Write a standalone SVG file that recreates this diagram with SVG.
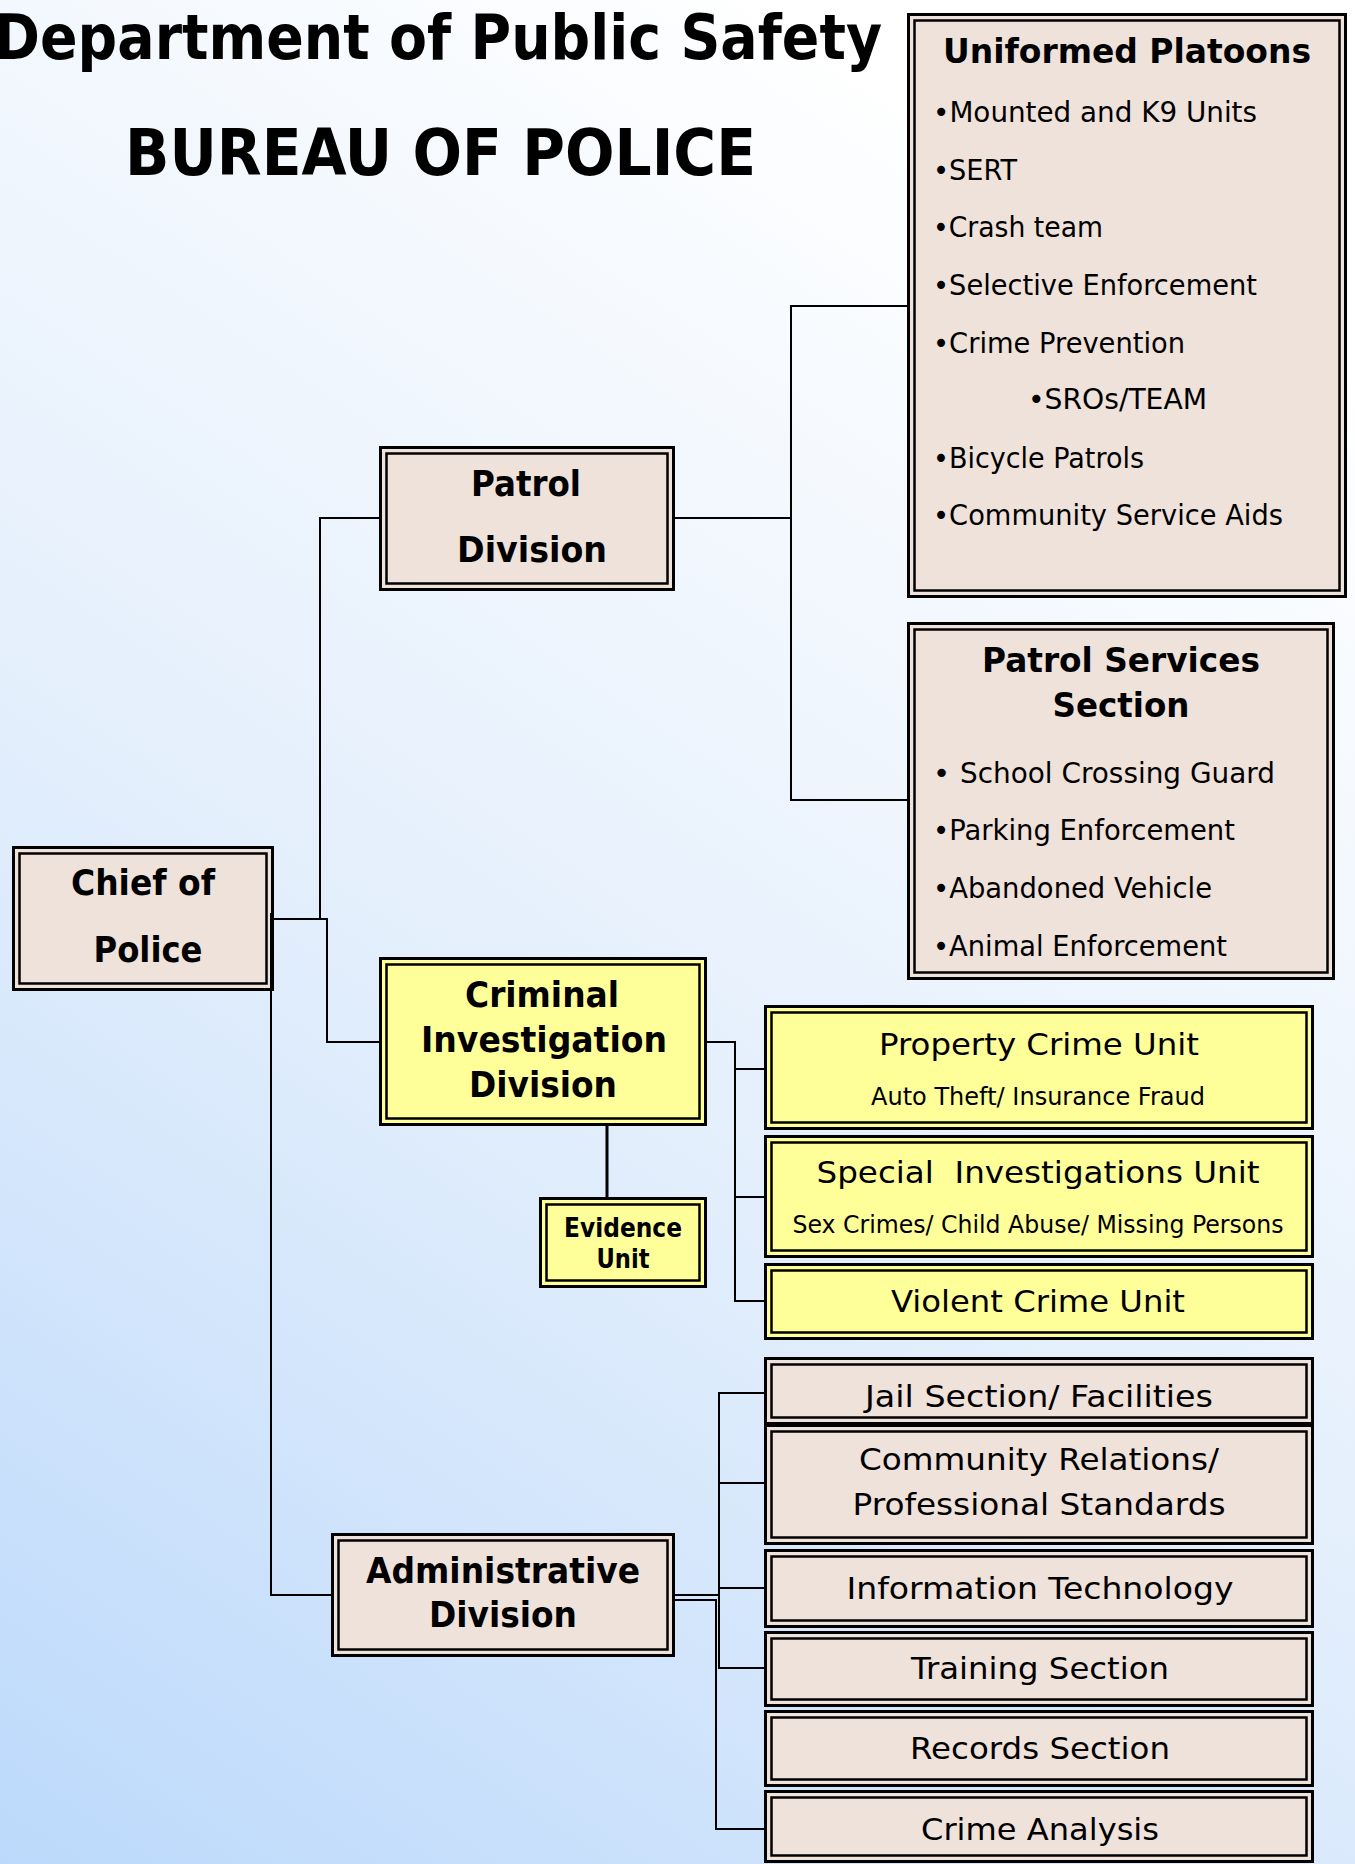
<svg xmlns="http://www.w3.org/2000/svg" width="1355" height="1864" viewBox="0 0 1355 1864">
<defs>
<linearGradient id="bg" gradientUnits="userSpaceOnUse" x1="0" y1="1864" x2="1100" y2="200">
<stop offset="0" stop-color="#bcd9fb"/>
<stop offset="0.5" stop-color="#e4effc"/>
<stop offset="1" stop-color="#ffffff"/>
</linearGradient>
<style>
text{font-family:"DejaVu Sans","Liberation Sans",sans-serif;fill:#000}
.t{font-weight:bold}
.h{font-weight:bold;font-size:34px}
.b{font-weight:bold;font-size:35px}
.r{font-size:29px}
.u{font-size:30px}
.s{font-size:25px}
.a{font-size:31px}
.e{font-weight:bold;font-size:26px}
.m{text-anchor:middle}
.ob{stroke:#000;stroke-width:3;fill:#efe2da}
.oy{stroke:#000;stroke-width:3;fill:#ffff99}
.ib{stroke:#000;stroke-width:2.5;fill:none}
.c{stroke:#000;stroke-width:2;fill:none}
</style>
</defs>
<rect x="0" y="0" width="1355" height="1864" fill="url(#bg)"/>

<g id="title">
<text class="t" x="-6" y="59" style="font-size:58px" textLength="888" lengthAdjust="spacingAndGlyphs" transform="translate(0 59) scale(1 1.086) translate(0 -59)">Department of Public Safety</text>
<text class="t" x="125" y="175" style="font-size:60px" textLength="631" lengthAdjust="spacingAndGlyphs" transform="translate(0 175) scale(1 1.07) translate(0 -175)">BUREAU OF POLICE</text>
</g>

<g id="uniformed-platoons">
<rect class="ob" x="908.5" y="14.5" width="437" height="582"/>
<rect class="ib" x="914.5" y="20.5" width="425" height="570"/>
<text class="h m" x="1127" y="63" textLength="368" lengthAdjust="spacingAndGlyphs">Uniformed Platoons</text>
<text class="r" x="933" y="122" textLength="324" lengthAdjust="spacingAndGlyphs">•Mounted and K9 Units</text>
<text class="r" x="933" y="180" textLength="84" lengthAdjust="spacingAndGlyphs">•SERT</text>
<text class="r" x="933" y="237" textLength="170" lengthAdjust="spacingAndGlyphs">•Crash team</text>
<text class="r" x="933" y="295" textLength="324" lengthAdjust="spacingAndGlyphs">•Selective Enforcement</text>
<text class="r" x="933" y="353" textLength="252" lengthAdjust="spacingAndGlyphs">•Crime Prevention</text>
<text class="r" x="1028" y="409" textLength="179" lengthAdjust="spacingAndGlyphs">•SROs/TEAM</text>
<text class="r" x="933" y="468" textLength="211" lengthAdjust="spacingAndGlyphs">•Bicycle Patrols</text>
<text class="r" x="933" y="525" textLength="350" lengthAdjust="spacingAndGlyphs">•Community Service Aids</text>
</g>

<g id="patrol-services-section">
<rect class="ob" x="908.5" y="623.5" width="425" height="355"/>
<rect class="ib" x="914.5" y="629.5" width="413" height="343"/>
<text class="h m" x="1121" y="672" textLength="278" lengthAdjust="spacingAndGlyphs">Patrol Services</text>
<text class="h m" x="1121" y="717" textLength="137" lengthAdjust="spacingAndGlyphs">Section</text>
<text class="r" x="933" y="783">•</text>
<text class="r" x="960" y="783" textLength="315" lengthAdjust="spacingAndGlyphs">School Crossing Guard</text>
<text class="r" x="933" y="840" textLength="302" lengthAdjust="spacingAndGlyphs">•Parking Enforcement</text>
<text class="r" x="933" y="898" textLength="279" lengthAdjust="spacingAndGlyphs">•Abandoned Vehicle</text>
<text class="r" x="933" y="956" textLength="294" lengthAdjust="spacingAndGlyphs">•Animal Enforcement</text>
</g>

<g id="patrol-division">
<rect class="ob" x="380.5" y="447.5" width="293" height="142"/>
<rect class="ib" x="386.5" y="453.5" width="281" height="130"/>
<text class="b m" x="526" y="496" textLength="110" lengthAdjust="spacingAndGlyphs">Patrol</text>
<text class="b m" x="532" y="562" textLength="150" lengthAdjust="spacingAndGlyphs">Division</text>
</g>

<g id="chief-of-police">
<rect class="ob" x="13.5" y="847.5" width="259" height="142"/>
<rect class="ib" x="19.5" y="853.5" width="247" height="130"/>
<text class="b m" x="143" y="895" textLength="144" lengthAdjust="spacingAndGlyphs">Chief of</text>
<text class="b m" x="148" y="962" textLength="109" lengthAdjust="spacingAndGlyphs">Police</text>
</g>

<g id="criminal-investigation-division">
<rect class="oy" x="380.5" y="958.5" width="325" height="166"/>
<rect class="ib" x="386.5" y="964.5" width="313" height="154"/>
<text class="b m" x="542" y="1007" textLength="154" lengthAdjust="spacingAndGlyphs">Criminal</text>
<text class="b m" x="544" y="1052" textLength="246" lengthAdjust="spacingAndGlyphs">Investigation</text>
<text class="b m" x="543" y="1097" textLength="148" lengthAdjust="spacingAndGlyphs">Division</text>
</g>

<g id="evidence-unit">
<rect class="oy" x="540.5" y="1198.5" width="165" height="88"/>
<rect class="ib" x="546.5" y="1204.5" width="153" height="76"/>
<text class="e m" x="623" y="1237" textLength="118" lengthAdjust="spacingAndGlyphs">Evidence</text>
<text class="e m" x="623" y="1268" textLength="53" lengthAdjust="spacingAndGlyphs">Unit</text>
</g>

<g id="property-crime-unit">
<rect class="oy" x="765.5" y="1006.5" width="547" height="122"/>
<rect class="ib" x="771.5" y="1012.5" width="535" height="110"/>
<text class="u m" x="1039" y="1055" textLength="320" lengthAdjust="spacingAndGlyphs">Property Crime Unit</text>
<text class="s m" x="1038" y="1105" textLength="334" lengthAdjust="spacingAndGlyphs">Auto Theft/ Insurance Fraud</text>
</g>

<g id="special-investigations-unit">
<rect class="oy" x="765.5" y="1136.5" width="547" height="120"/>
<rect class="ib" x="771.5" y="1142.5" width="535" height="108"/>
<text class="u m" x="1038" y="1183" textLength="443" lengthAdjust="spacingAndGlyphs">Special&#160; Investigations Unit</text>
<text class="s m" x="1038" y="1233" textLength="491" lengthAdjust="spacingAndGlyphs">Sex Crimes/ Child Abuse/ Missing Persons</text>
</g>

<g id="violent-crime-unit">
<rect class="oy" x="765.5" y="1264.5" width="547" height="74"/>
<rect class="ib" x="771.5" y="1270.5" width="535" height="62"/>
<text class="u m" x="1038" y="1312" textLength="294" lengthAdjust="spacingAndGlyphs">Violent Crime Unit</text>
</g>

<g id="administrative-division">
<rect class="ob" x="332.5" y="1534.5" width="341" height="121"/>
<rect class="ib" x="338.5" y="1540.5" width="329" height="109"/>
<text class="b m" x="503" y="1583" textLength="274" lengthAdjust="spacingAndGlyphs">Administrative</text>
<text class="b m" x="503" y="1627" textLength="148" lengthAdjust="spacingAndGlyphs">Division</text>
</g>

<g id="jail-section">
<rect class="ob" x="765.5" y="1358.5" width="547" height="65"/>
<rect class="ib" x="771.5" y="1364.5" width="535" height="53"/>
<text class="a m" x="1039" y="1407" textLength="348" lengthAdjust="spacingAndGlyphs">Jail Section/ Facilities</text>
</g>

<g id="community-relations">
<rect class="ob" x="765.5" y="1425.5" width="547" height="118"/>
<rect class="ib" x="771.5" y="1431.5" width="535" height="106"/>
<text class="a m" x="1039" y="1470" textLength="360" lengthAdjust="spacingAndGlyphs">Community Relations/</text>
<text class="a m" x="1039" y="1515" textLength="373" lengthAdjust="spacingAndGlyphs">Professional Standards</text>
</g>

<g id="information-technology">
<rect class="ob" x="765.5" y="1550.5" width="547" height="76"/>
<rect class="ib" x="771.5" y="1556.5" width="535" height="64"/>
<text class="a m" x="1040" y="1599" textLength="387" lengthAdjust="spacingAndGlyphs">Information Technology</text>
</g>

<g id="training-section">
<rect class="ob" x="765.5" y="1632.5" width="547" height="73"/>
<rect class="ib" x="771.5" y="1638.5" width="535" height="61"/>
<text class="a m" x="1040" y="1679" textLength="258" lengthAdjust="spacingAndGlyphs">Training Section</text>
</g>

<g id="records-section">
<rect class="ob" x="765.5" y="1711.5" width="547" height="74"/>
<rect class="ib" x="771.5" y="1717.5" width="535" height="62"/>
<text class="a m" x="1040" y="1759" textLength="260" lengthAdjust="spacingAndGlyphs">Records Section</text>
</g>

<g id="crime-analysis">
<rect class="ob" x="765.5" y="1791.5" width="547" height="70"/>
<rect class="ib" x="771.5" y="1797.5" width="535" height="58"/>
<text class="a m" x="1040" y="1840" textLength="238" lengthAdjust="spacingAndGlyphs">Crime Analysis</text>
</g>

<g id="connectors">
<polyline class="c" points="274,919 327,919 327,1042 380,1042"/>
<polyline class="c" points="320,919 320,518 380,518"/>
<polyline class="c" points="271,913 271,1595 332,1595"/>
<polyline class="c" points="675,518 791,518"/>
<polyline class="c" points="907,306 791,306 791,800 907,800"/>
<polyline class="c" points="707,1042 735,1042 735,1301 765,1301"/>
<line class="c" x1="735" y1="1069" x2="765" y2="1069"/>
<line class="c" x1="735" y1="1197" x2="765" y2="1197"/>
<line class="c" x1="607" y1="1126" x2="607" y2="1198" style="stroke-width:3"/>
<polyline class="c" points="675,1595 719,1595"/>
<polyline class="c" points="765,1393 719,1393 719,1668 765,1668"/>
<line class="c" x1="719" y1="1483" x2="765" y2="1483"/>
<line class="c" x1="719" y1="1588" x2="765" y2="1588"/>
<polyline class="c" points="675,1600 716,1600 716,1829 765,1829"/>
</g>
</svg>
